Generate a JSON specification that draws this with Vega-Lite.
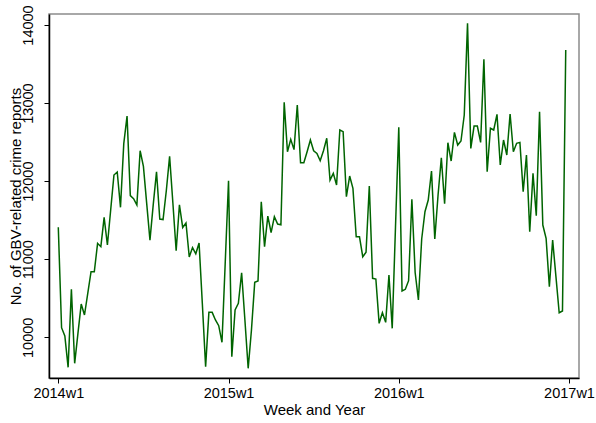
{
  "$schema": "https://vega.github.io/schema/vega-lite/v6.json",
  "width": 530,
  "height": 364,
  "autosize": {"type": "none"},
  "padding": {"left": 49, "top": 14, "right": 17, "bottom": 45},
  "background": "white",
  "config": {
    "font": "Liberation Sans",
    "view": {"stroke": "#8c8c8c", "strokeWidth": 1.5}
  },
  "data": {
    "values": [
      {"t":0,"reports":11409},{"t":1,"reports":10123},{"t":2,"reports":10017},{"t":3,"reports":9616},
      {"t":4,"reports":10615},{"t":5,"reports":9667},{"t":6,"reports":10051},{"t":7,"reports":10426},
      {"t":8,"reports":10286},{"t":9,"reports":10563},{"t":10,"reports":10840},{"t":11,"reports":10840},
      {"t":12,"reports":11204},{"t":13,"reports":11161},{"t":14,"reports":11537},{"t":15,"reports":11182},
      {"t":16,"reports":11630},{"t":17,"reports":12079},{"t":18,"reports":12117},{"t":19,"reports":11665},
      {"t":20,"reports":12480},{"t":21,"reports":12834},{"t":22,"reports":11815},{"t":23,"reports":11775},
      {"t":24,"reports":11694},{"t":25,"reports":12390},{"t":26,"reports":12190},{"t":27,"reports":11716},
      {"t":28,"reports":11244},{"t":29,"reports":11700},{"t":30,"reports":12121},{"t":31,"reports":11515},
      {"t":32,"reports":11508},{"t":33,"reports":11880},{"t":34,"reports":12318},{"t":35,"reports":11720},
      {"t":36,"reports":11109},{"t":37,"reports":11698},{"t":38,"reports":11407},{"t":39,"reports":11464},
      {"t":40,"reports":11030},{"t":41,"reports":11150},{"t":42,"reports":11070},{"t":43,"reports":11208},
      {"t":44,"reports":10430},{"t":45,"reports":9623},{"t":46,"reports":10320},{"t":47,"reports":10320},
      {"t":48,"reports":10222},{"t":49,"reports":10149},{"t":50,"reports":9936},{"t":51,"reports":10968},
      {"t":52,"reports":12006},{"t":53,"reports":9752},{"t":54,"reports":10350},{"t":55,"reports":10435},
      {"t":56,"reports":10827},{"t":57,"reports":10222},{"t":58,"reports":9603},{"t":59,"reports":10094},
      {"t":60,"reports":10704},{"t":61,"reports":10721},{"t":62,"reports":11737},{"t":63,"reports":11161},
      {"t":64,"reports":11553},{"t":65,"reports":11340},{"t":66,"reports":11545},{"t":67,"reports":11451},
      {"t":68,"reports":11442},{"t":69,"reports":13010},{"t":70,"reports":12377},{"t":71,"reports":12536},
      {"t":72,"reports":12404},{"t":73,"reports":12975},{"t":74,"reports":12236},{"t":75,"reports":12236},
      {"t":76,"reports":12377},{"t":77,"reports":12527},{"t":78,"reports":12390},{"t":79,"reports":12356},
      {"t":80,"reports":12262},{"t":81,"reports":12390},{"t":82,"reports":12549},{"t":83,"reports":12014},
      {"t":84,"reports":12100},{"t":85,"reports":11950},{"t":86,"reports":12655},{"t":87,"reports":12634},
      {"t":88,"reports":11801},{"t":89,"reports":12066},{"t":90,"reports":11908},{"t":91,"reports":11288},
      {"t":92,"reports":11288},{"t":93,"reports":11032},{"t":94,"reports":11089},{"t":95,"reports":11938},
      {"t":96,"reports":10756},{"t":97,"reports":10747},{"t":98,"reports":10179},{"t":99,"reports":10315},
      {"t":100,"reports":10192},{"t":101,"reports":10798},{"t":102,"reports":10115},{"t":103,"reports":11416},
      {"t":104,"reports":12689},{"t":105,"reports":10593},{"t":106,"reports":10615},{"t":107,"reports":10725},
      {"t":108,"reports":11767},{"t":109,"reports":10830},{"t":110,"reports":10478},{"t":111,"reports":11259},
      {"t":112,"reports":11609},{"t":113,"reports":11758},{"t":114,"reports":12130},{"t":115,"reports":11259},
      {"t":116,"reports":11822},{"t":117,"reports":12300},{"t":118,"reports":11711},{"t":119,"reports":12492},
      {"t":120,"reports":12258},{"t":121,"reports":12625},{"t":122,"reports":12463},{"t":123,"reports":12514},
      {"t":124,"reports":12847},{"t":125,"reports":14021},{"t":126,"reports":12420},{"t":127,"reports":12706},
      {"t":128,"reports":12706},{"t":129,"reports":12497},{"t":130,"reports":13560},{"t":131,"reports":12121},
      {"t":132,"reports":12677},{"t":133,"reports":12655},{"t":134,"reports":12856},{"t":135,"reports":12207},
      {"t":136,"reports":12527},{"t":137,"reports":12335},{"t":138,"reports":12860},{"t":139,"reports":12377},
      {"t":140,"reports":12485},{"t":141,"reports":12497},{"t":142,"reports":11865},{"t":143,"reports":12335},
      {"t":144,"reports":11352},{"t":145,"reports":12100},{"t":146,"reports":11557},{"t":147,"reports":12889},
      {"t":148,"reports":11438},{"t":149,"reports":11268},{"t":150,"reports":10648},{"t":151,"reports":11246},
      {"t":152,"reports":10780},{"t":153,"reports":10315},{"t":154,"reports":10337},{"t":155,"reports":13680}
    ]
  },
  "mark": {"type": "line", "color": "#006400", "strokeWidth": 1.5, "clip": true},
  "encoding": {
    "x": {
      "field": "t",
      "type": "quantitative",
      "scale": {"domain": [-2.84, 159.05], "nice": false, "zero": false},
      "axis": {
        "title": "Week and Year",
        "titleFontSize": 15,
        "titleFontWeight": "normal",
        "titleColor": "black",
        "titlePadding": 3,
        "values": [0, 52, 104, 156],
        "labelExpr": "(2014 + datum.value / 52) + 'w1'",
        "labelFontSize": 14.5,
        "labelColor": "black",
        "labelPadding": 3,
        "tickColor": "black",
        "tickSize": 5,
        "domainColor": "black",
        "domainWidth": 1.5,
        "grid": false
      }
    },
    "y": {
      "field": "reports",
      "type": "quantitative",
      "scale": {"domain": [9479, 14141], "nice": false, "zero": false},
      "axis": {
        "title": "No. of GBV-related crime reports",
        "titleFontSize": 15,
        "titleFontWeight": "normal",
        "titleColor": "black",
        "titlePadding": -3,
        "values": [10000, 11000, 12000, 13000, 14000],
        "format": "d",
        "labelAngle": -90,
        "labelAlign": "center",
        "labelBaseline": "bottom",
        "labelFontSize": 14.5,
        "labelColor": "black",
        "labelPadding": 9,
        "tickColor": "black",
        "tickSize": 5,
        "domainColor": "black",
        "domainWidth": 1.5,
        "grid": false
      }
    }
  }
}
